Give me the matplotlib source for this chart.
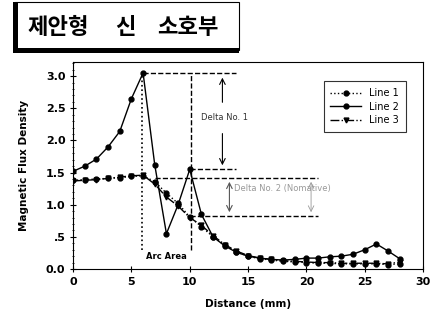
import matplotlib.pyplot as plt
import numpy as np
from matplotlib.patches import Rectangle

# data
dist = list(range(0, 29))
line1 = [1.38, 1.39, 1.40, 1.41, 1.42, 1.44, 1.45, 1.36, 1.18, 1.02, 0.81, 0.66, 0.50, 0.37,
         0.27, 0.20, 0.16, 0.14, 0.12, 0.11, 0.10, 0.09, 0.09, 0.08, 0.08, 0.08, 0.08, 0.07, 0.08]
line2 = [1.52, 1.60, 1.71, 1.90, 2.14, 2.65, 3.05, 1.62, 0.55, 1.00, 1.55, 0.85, 0.50, 0.36,
         0.26, 0.20, 0.17, 0.15, 0.14, 0.15, 0.17, 0.17, 0.19, 0.20, 0.23, 0.30, 0.39, 0.28, 0.16]
line3 = [1.37, 1.38, 1.39, 1.41, 1.43, 1.45, 1.46, 1.32, 1.12, 0.98, 0.80, 0.68, 0.52, 0.38,
         0.28, 0.21, 0.17, 0.15, 0.13, 0.12, 0.11, 0.10, 0.10, 0.09, 0.09, 0.09, 0.09, 0.08, 0.11]
yticks = [0.0, 0.5, 1.0, 1.5, 2.0, 2.5, 3.0]
ytick_labels = ["0.0", ".5", "1.0", "1.5", "2.0", "2.5", "3.0"]
xticks = [0, 5, 10, 15, 20, 25, 30]
title_words = ["제안형", "신", "소호부"]

fig = plt.figure(figsize=(4.43, 3.18), dpi=100)
ax = fig.add_axes([0.165, 0.154, 0.79, 0.651])

ax.plot(dist, line1, ":", color="black", marker="o", ms=3.5, lw=1, label="Line 1")
ax.plot(dist, line2, "-", color="black", marker="o", ms=3.5, lw=1, label="Line 2")
ax.plot(dist, line3, "-.", color="black", marker="v", ms=3.5, lw=1, label="Line 3")

# annotation lines
ax.plot([6, 14], [3.05, 3.05], "--", color="black", lw=1)
ax.plot([10, 14], [1.55, 1.55], "--", color="black", lw=1)
ax.plot([7, 21], [1.41, 1.41], "--", color="black", lw=1)
ax.plot([10, 21], [0.83, 0.83], "--", color="black", lw=1)
ax.plot([5.9, 5.9], [0.3, 3.05], ":", color="black", lw=1.2)
ax.plot([10.1, 10.1], [0.3, 3.05], "--", color="black", lw=1)
ax.annotate("", xy=(12.8, 3.02), xytext=(12.8, 2.55),
            arrowprops=dict(arrowstyle="->", lw=0.8))
ax.annotate("", xy=(12.8, 1.57), xytext=(12.8, 2.15),
            arrowprops=dict(arrowstyle="->", lw=0.8))
ax.text(11.0, 2.36, "Delta No. 1", fontsize=6, va="center", color="#333333")
ax.annotate("", xy=(13.4, 1.40), xytext=(13.4, 0.84),
            arrowprops=dict(arrowstyle="<->", lw=0.8, color="#555555"))
ax.annotate("", xy=(20.4, 1.40), xytext=(20.4, 0.84),
            arrowprops=dict(arrowstyle="<->", lw=0.6, color="#999999"))
ax.text(13.8, 1.25, "Delta No. 2 (Nomative)", fontsize=6, va="center", color="#999999")
ax.text(8.0, 0.19, "Arc Area", fontsize=6, fontweight="bold", ha="center", va="center")

ax.set_xlim(0, 30)
ax.set_ylim(0, 3.22)
ax.set_xticks(xticks)
ax.set_yticks(yticks)
ax.set_yticklabels(ytick_labels)
ax.set_yticks(np.arange(0, 3.21, 0.1), minor=True)
ax.tick_params(axis="both", labelsize=8, direction="inout", length=4)
ax.tick_params(axis="y", which="minor", direction="inout", length=2)
for lab in ax.get_xticklabels() + ax.get_yticklabels():
    lab.set_fontweight("bold")
ax.set_xlabel("Distance (mm)", fontsize=7.5, fontweight="bold", labelpad=9)
ax.set_ylabel("Magnetic Flux Density", fontsize=7.5, fontweight="bold", labelpad=12)

leg = ax.legend(loc="upper right", fontsize=7, frameon=True, fancybox=False,
                edgecolor="black", bbox_to_anchor=(0.965, 0.93), handlelength=3.2,
                labelspacing=0.35, borderpad=0.7)
leg.get_frame().set_linewidth(0.8)

# title box
fig.patches.append(Rectangle((15 / 443, 1 - 50 / 318), 224 / 443, 48 / 318,
                             transform=fig.transFigure, facecolor="white",
                             edgecolor="black", lw=0.8))
fig.patches.append(Rectangle((15 / 443, 1 - 53 / 318), 224 / 443, 5 / 318,
                             transform=fig.transFigure, facecolor="black", lw=0))
fig.patches.append(Rectangle((13 / 443, 1 - 53 / 318), 5 / 443, 51 / 318,
                             transform=fig.transFigure, facecolor="black", lw=0))
for word, xpx in zip(title_words, [28, 115, 157]):
    fig.text(xpx / 443, 1 - 27 / 318, word, fontsize=16, fontweight="bold",
             family=["Noto Sans CJK KR", "DejaVu Sans"], va="center")

fig.savefig("out.png", dpi=100)
